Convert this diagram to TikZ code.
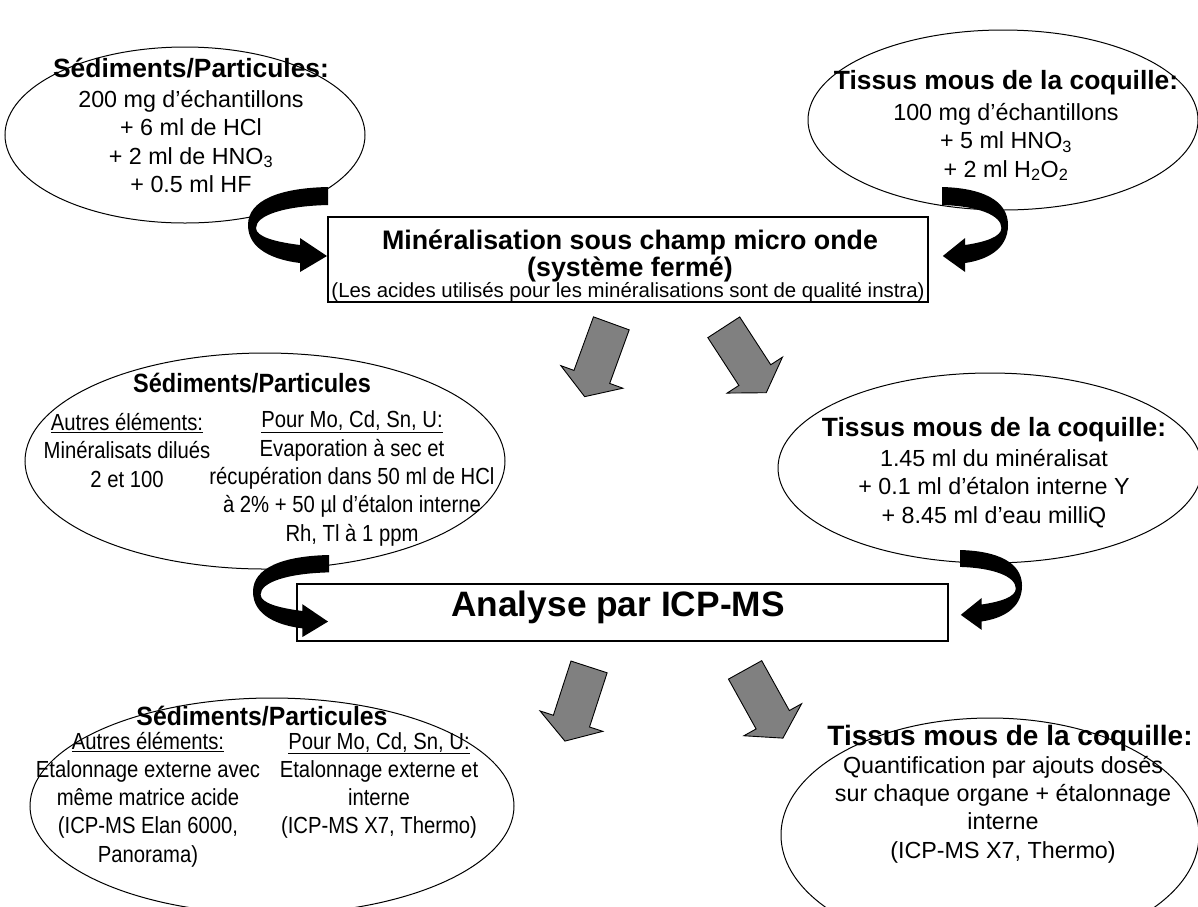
\documentclass[tikz,border=0pt]{standalone}
\usepackage{fontspec}
\setmainfont{Liberation Sans}
\newfontfamily\narrowsans[FakeStretch=0.87]{Liberation Sans}
\newfontfamily\narrowtitleA[FakeStretch=0.89]{Liberation Sans}
\newfontfamily\narrowtitleB[FakeStretch=0.94]{Liberation Sans}
\usetikzlibrary{shapes.geometric}
\definecolor{arrgray}{RGB}{128,128,128}
\newcommand{\setfs}[2]{\fontsize{#1}{#2}\selectfont}
\tikzset{
  ell/.style={draw=black, line width=1pt, ellipse, inner sep=0pt},
  boxnode/.style={draw=black, line width=1.2pt, rectangle, inner sep=0pt},
  grayarr/.style={fill=arrgray, draw=black, line width=0.9pt, line join=miter},
  title/.style={inner sep=0pt, align=center, font=\bfseries\setfs{26.4}{30}},
  body/.style={inner sep=0pt, align=center, font=\setfs{23.3}{28.3}},
  nbody/.style={inner sep=0pt, align=center, font=\narrowsans\setfs{23.3}{28.3}},
}
\newcommand{\grayarrow}[3]{%
  \begin{scope}[shift={(#1,#2)}, rotate=#3]
    \filldraw[grayarr] (-19,-39) -- (19,-39) -- (19,18) -- (33,18) -- (0,39) -- (-33,18) -- (-19,18) -- cycle;
  \end{scope}}
\newcommand{\curvedarrow}[4]{%
  \begin{scope}[shift={(#1,#2)}, xscale=#3, yscale=#4]
    \fill[black] (80,0) .. controls (32,1) and (0,13) .. (0,38)
      .. controls (0,63) and (27,73) .. (52,76) -- (52,85) -- (79,69) -- (52,51) -- (52,58)
      .. controls (28,55) and (8,50) .. (8,41)
      .. controls (8,28) and (37,19) .. (80,18) -- cycle;
  \end{scope}}
\begin{document}
\begin{tikzpicture}[x=1pt, y=-1pt]
\useasboundingbox (0,0) rectangle (1198,906);
\clip (0,0) rectangle (1198,906);
\fill[white] (0,0) rectangle (1198,906);

% ellipses and boxes
\node[ell, minimum width=360pt, minimum height=176pt] (e1) at (185,135) {};
\node[ell, minimum width=390pt, minimum height=180pt] (e2) at (1003,120) {};
\node[boxnode, minimum width=600pt, minimum height=85pt] (mineral) at (628,259.5) {};
\node[ell, minimum width=480pt, minimum height=216pt] (e3) at (265,461) {};
\node[ell, minimum width=424pt, minimum height=190pt] (e4) at (990,468) {};
\node[boxnode, minimum width=651pt, minimum height=57pt] (icp) at (622.5,612.5) {};
\node[ell, minimum width=484pt, minimum height=216pt] (e5) at (272,806) {};
\node[ell, minimum width=418pt, minimum height=234pt] (e6) at (990,835) {};

% top-left
\node[title] (t1) at (191,68) {Sédiments/Particules:};
\node[body] (b1) at (191,141.5) {200 mg d’échantillons\\+ 6 ml de HCl\\+ 2 ml de HNO\textsubscript{3}\\+ 0.5 ml HF};
% top-right
\node[title] (t2) at (1006,83) {Tissus mous de la coquille:};
\node[body] (b2) at (1006,142) {100 mg d’échantillons\\+ 5 ml HNO\textsubscript{3}\\+ 2 ml H\textsubscript{2}O\textsubscript{2}};
% mineralisation box
\node[inner sep=0pt, align=center, font=\bfseries\setfs{26.8}{27}] (m1) at (630,255.5) {Minéralisation sous champ micro onde\\(système fermé)};
\node[inner sep=0pt, font=\setfs{20.4}{24}] (m2) at (628,292) {(Les acides utilisés pour les minéralisations sont de qualité instra)};

% middle-left
\node[title, font=\narrowtitleA\bfseries\setfs{26.4}{30}] (t3) at (252,383) {Sédiments/Particules};
\node[nbody] (b3a) at (127,450.5) {\underline{Autres éléments:}\\Minéralisats dilués\\2 et 100};
\node[nbody] (b3b) at (352,478.5) {\underline{Pour Mo, Cd, Sn, U:}\\Evaporation à sec et\\récupération dans 50 ml de HCl\\à 2\% + 50 µl d’étalon interne\\Rh, Tl à 1 ppm};
% middle-right
\node[title] (t4) at (994,430) {Tissus mous de la coquille:};
\node[body] (b4) at (994,488.5) {1.45 ml du minéralisat\\+ 0.1 ml d’étalon interne Y\\+ 8.45 ml d’eau milliQ};
% analyse
\node[inner sep=0pt, font=\bfseries\setfs{35.3}{38}] (a1) at (618,607) {Analyse par ICP-MS};

% bottom-left
\node[title, font=\narrowtitleB\bfseries\setfs{26.4}{30}] (t5) at (262,716) {Sédiments/Particules};
\node[nbody] (b5a) at (148,799.5) {\underline{Autres éléments:}\\Etalonnage externe avec\\même matrice acide\\(ICP-MS Elan 6000,\\Panorama)};
\node[nbody] (b5b) at (379,785.5) {\underline{Pour Mo, Cd, Sn, U:}\\Etalonnage externe et\\interne\\(ICP-MS X7, Thermo)};
% bottom-right
\node[title, font=\bfseries\setfs{28}{30}] (t6) at (1010,738) {Tissus mous de la coquille:};
\node[body] (b6) at (1003,809.5) {Quantification par ajouts dosés\\sur chaque organe + étalonnage\\interne\\(ICP-MS X7, Thermo)};

% gray arrows
\grayarrow{598}{360}{-20}
\grayarrow{745}{360}{33}
\grayarrow{577}{704}{-18}
\grayarrow{764}{704}{29}

% black curved arrows
\curvedarrow{248}{187}{1}{1}
\curvedarrow{1008}{187}{-0.825}{1}
\curvedarrow{253}{555}{0.95}{0.965}
\curvedarrow{1022}{550}{-0.775}{0.94}
\end{tikzpicture}
\end{document}
